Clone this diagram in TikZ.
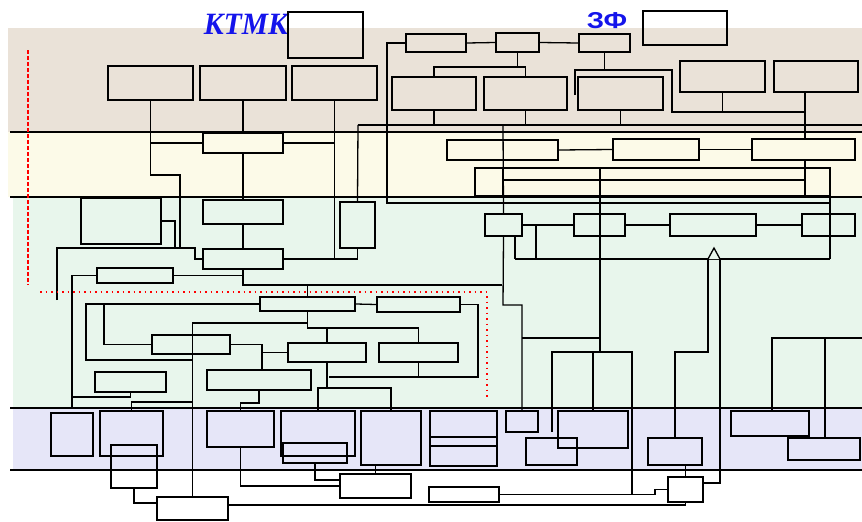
\documentclass[tikz,border=0pt]{standalone}
\usepackage{fontspec}
\newfontfamily\ktmkfont{Liberation Serif}
\newfontfamily\zffont{Liberation Sans}
\usepackage{tikz}

\definecolor{bandtop}{RGB}{234,226,216}
\definecolor{bandmid}{RGB}{252,250,232}
\definecolor{bandwork}{RGB}{232,246,236}
\definecolor{bandlow}{RGB}{230,230,248}
\definecolor{titleblue}{RGB}{20,20,235}

\begin{document}
\begin{tikzpicture}[x=1pt,y=-1pt,
  box/.style={draw,line width=2pt,inner sep=0pt},
  link/.style={line width=1.3pt},
  bus/.style={line width=2.8pt},
  sepline/.style={line width=1.7pt}]

\useasboundingbox (0,0) rectangle (862,522);

%-------------------------------------------------------------------
% Bands
\fill[bandtop]  (8,28)   rectangle (862,132);
\fill[bandmid]  (8,132)  rectangle (862,197);
\fill[bandwork] (13,197) rectangle (862,408);
\fill[bandlow]  (13,408) rectangle (862,470);
\foreach \y in {132,197,408,470}{
    \draw[sepline] (10,\y)--(862,\y);
}

% Titles
\node[font=\ktmkfont\bfseries\itshape\fontsize{31}{31}\selectfont,text=titleblue,xscale=0.95] (ktmk) at (246,24) {КТМК};
\node[font=\zffont\bfseries\fontsize{23}{23}\selectfont,text=titleblue,xscale=1.2] (zf) at (607,21) {ЗФ};

%-------------------------------------------------------------------
% Boxes: name/left/top/right/bottom
\foreach \n/\xa/\ya/\xb/\yb in {
  ka/288/12/363/58, kb/108/66/193/100, kc/200/66/286/100, kd/292/66/377/100,
  za/406/34/466/52, zb/496/33/539/52, zc/579/34/630/52, zd/643/11/727/45,
  ze/392/77/476/110, zf2/484/77/567/110, zg/578/77/663/110,
  zh/680/61/765/92, zi/774/61/858/92,
  ya/203/133/283/153, yb/447/140/558/160, yc/613/139/699/160,
  yd/752/139/855/160, ye/475/168/830/196,
  xa/81/198/161/244, xb/203/200/283/224, xc/340/202/375/248,
  xd/203/249/283/269, xe/97/268/173/283,
  xf/485/214/522/236, xg/574/214/625/236, xh/670/214/756/236, xi/802/214/855/236,
  wa/260/297/355/311, wb/377/297/460/312, wc/152/335/230/354,
  wd/288/343/366/362, we/379/343/458/362, wf/95/372/166/392, wg/207/370/311/390,
  va/51/413/93/456, vb/100/411/163/456, vc/111/445/157/488,
  vd/207/411/274/447, ve/281/411/355/456, vf/283/443/347/463,
  vg/361/411/421/465, vh/430/411/497/466, vj/506/411/538/432,
  vk/558/411/628/448, vl/526/438/577/465, vm/648/438/702/465,
  vn/731/411/809/436, vo/788/438/860/460,
  ua/157/497/228/520, ub/340/474/411/498, uc/429/487/499/502, ud/668/477/703/502}{
    \node[box,minimum width={(\xb-\xa)*1pt},minimum height={(\yb-\ya)*1pt}]
      (\n) at ({(\xa+\xb)/2},{(\ya+\yb)/2}) {};
}
\draw[link] (vh.west |- 0,437)--(vh.east |- 0,437);
\draw[link] (vh.west |- 0,446)--(vh.east |- 0,446);
\draw[link] (503,168)--(503,196);
\draw[link] (805,168)--(805,196);
\draw[link] (503,180)--(805,180);

%-------------------------------------------------------------------
% Top band links
\draw[link] (za.east)--(zb.west);
\draw[link] (zb.east)--(zc.west);
\draw[link] (zb.south)--(zb.south |- 0,67);
\draw[link] (ze.north)--(ze.north |- 0,67) -| (zf2.north);
\draw[link] (zc.south)--(zc.south |- 0,70);
\draw[link] (575,95) |- (672,70)--(672,112) -| (zi.south -| 805,0);
\draw[link] (zh.south)--(zh.south |- 0,112);
\draw[link] (zi.south -| 805,0)--(yd.north -| 805,0);
\draw[link] (yd.south -| 805,0)--(805,168);
\draw[link] (358,125)--(862,125);
\draw[bus] (503,125)--(623,125);
\foreach \b in {ze,zf2,zg}{
    \draw[link] (\b.south)--(\b.south |- 0,125);
}
\draw[link] (za.west) -| (387,203)--(830,203);

% Left column
\draw[link] (kb.south)--(kb.south |- 0,175)--(180,175)--(180,248);
\draw[link] (kb.south |- ya.west)--(ya.west);
\draw[link] (kc.south)--(ya.north);
\draw[link] (kd.south)--(kd.south |- xd.east);
\draw[link] (ya.east)--(ya.east -| kd.south);
\draw[link] (358,125)--(xc.north);
\draw[link] (xc.south) |- (xd.east);
\draw[link] (ya.south)--(xb.north);
\draw[link] (xb.south)--(xd.north);
\draw[link] (57,300) |- (195,248) |- (xd.west);
\draw[link] (xa.east) -| (175,248);
\draw[link] (xd.south) |- (502,285);
\draw[link] (wa.north)--(wa.north |- 0,285);
\draw[link] (xe.east)--(xe.east -| xd.south);
\draw[link] (xe.west) -| (72,408);

% Second and third band, right side
\draw[link] (yb.east)--(yc.west);
\draw[link] (yc.east)--(yd.west);
\draw[link] (503,125)--(xf.north);
\draw[link] (600,168)--(600,352);
\draw[link] (830,196)--(830,259);
\draw[link] (xf.east)--(xg.west);
\draw[link] (xg.east)--(xh.west);
\draw[link] (xh.east)--(xi.west);
\draw[bus] (515,259)--(830,259);
\draw[link] (xf.south -| 515,0)--(515,259);
\draw[link] (xf.east -| 536,0)--(536,259);
\draw[link,fill=bandwork] (708,259)--(714,248)--(720,259);
\draw[link] (708,259)--(708,352) -| (vm.north);
\draw[link] (720,259)--(720,483)--(ud.east |- 0,483);
\draw[link] (xf.south)--(503,305) -| (vj.north);
\draw[link] (vj.north |- 0,338)--(600,338);
\draw[link] (vk.north)--(vk.north |- 0,352);
\draw[link] (uc.east)--(uc.east -| 655,0) |- (ud.west);
\draw[link] (uc.east -| 632,0)--(632,352)--(552,352)--(552,432);
\draw[link] (vm.south -| ud.north)--(ud.north);
\draw[link] (vn.north -| 772,0) |- (862,338);
\draw[link] (vo.north -| 825,0)--(825,338);

% Lower work area
\draw[link] (wa.east)--(wb.west);
\draw[link] (wb.east) -| (478,377)--(329,377);
\draw[link] (wa.south)--(wa.south |- 0,328) -| (we.north);
\draw[link] (wd.north)--(wd.north |- 0,328);
\draw[link] (wa.south |- 0,323) -| (ua.north);
\draw[link] (wa.west) -| (86,360)--(ua.north |- 0,360);
\draw[link] (wa.west -| 104,0) |- (wc.west);
\draw[link] (wc.east) -| (wg.north -| 262,0);
\draw[link] (wd.west)--(wd.west -| 262,0);
\draw[link] (we.south)--(we.south |- 0,377);
\draw[link] (wd.south)--(wd.south |- 0,388);
\draw[link] (ve.north)--(ve.north |- 0,388) -| (vg.north);
\draw[link] (wf.south) |- (72,397);
\draw[link] (vb.north) |- (ua.north |- 0,402);
\draw[link] (wg.south)--(wg.south |- 0,403) -| (vd.north);
\draw[link] (vd.south) |- (ub.west);
\draw[link] (vf.south) |- (ub.west |- 0,480);
\draw[link] (vg.south -| ub.north)--(ub.north);
\draw[link] (vc.south) |- (ua.west |- 0,503);
\draw[link] (ua.east |- 0,505)--(ud.south |- 0,505)--(ud.south);

% Red borders
\draw[red,line width=1.5pt,dash pattern=on 4pt off 2pt] (28,50)--(28,285);
\draw[red,line width=1.3pt,dash pattern=on 1.5pt off 4pt] (40,292)--(487,292)--(487,400);

\end{tikzpicture}
\end{document}
